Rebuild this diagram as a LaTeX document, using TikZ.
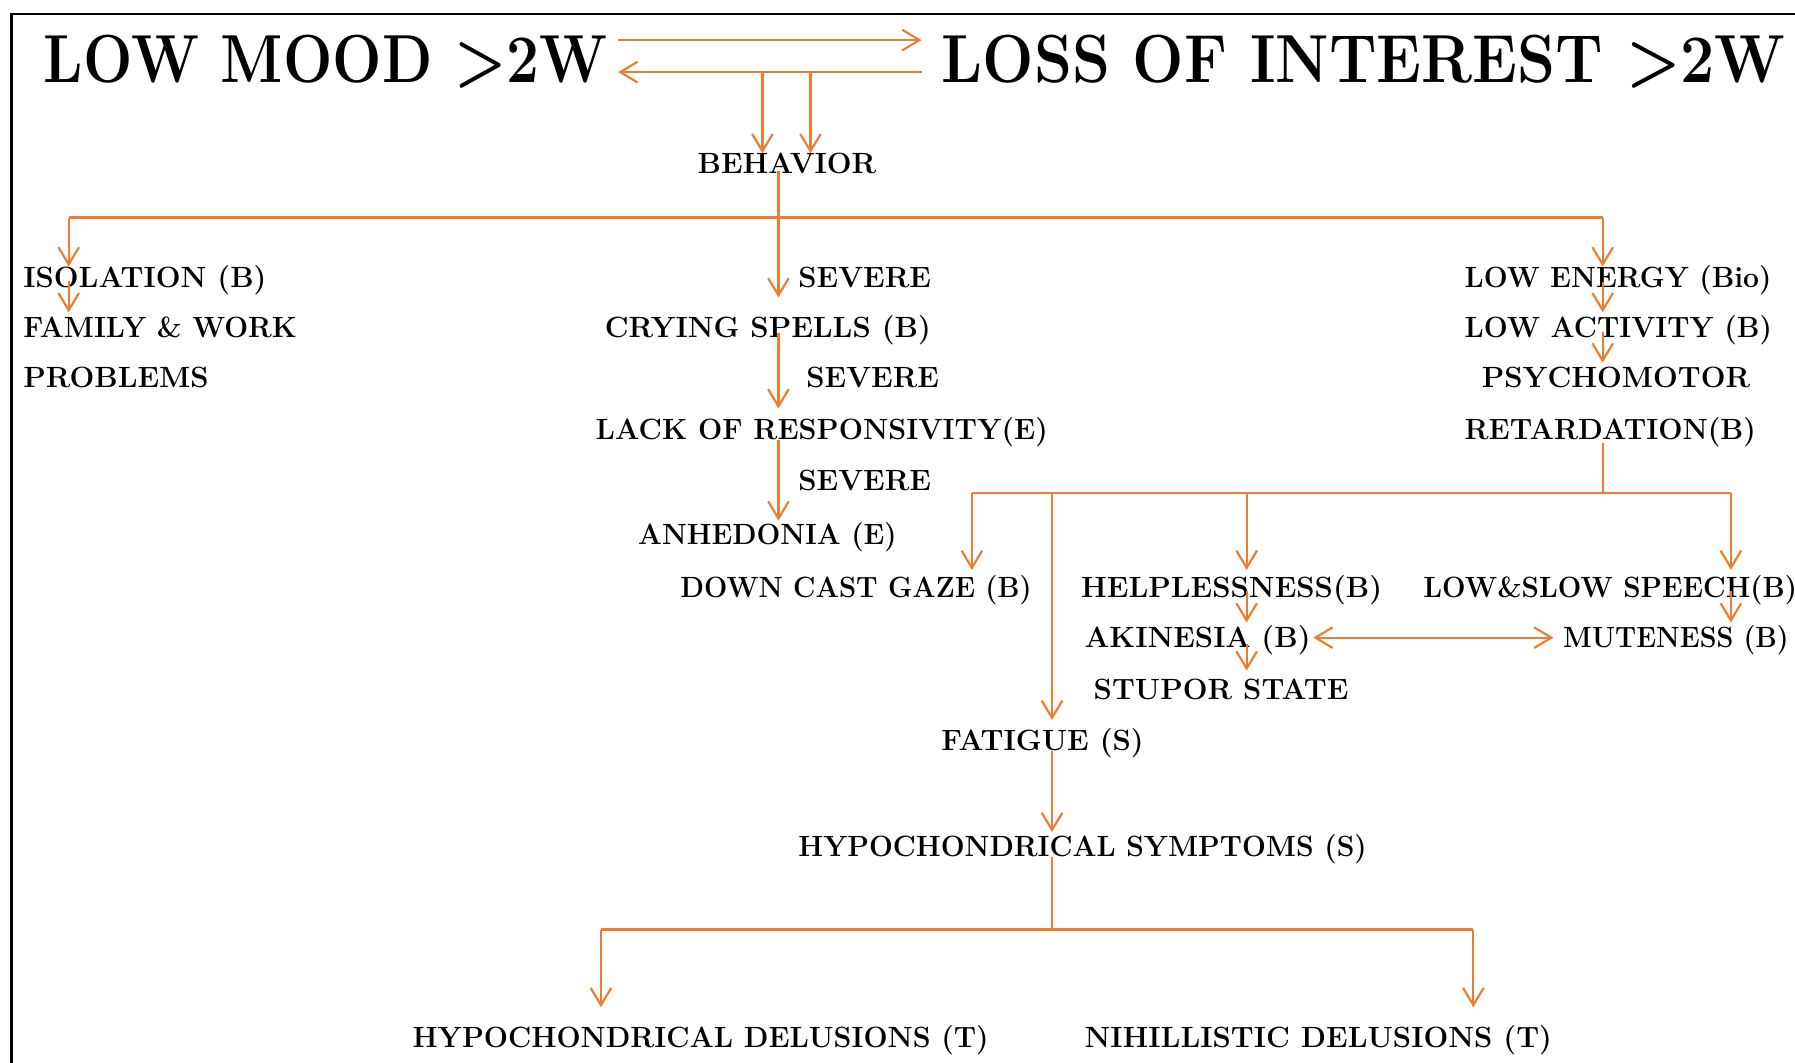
\documentclass[tikz,border=0pt]{standalone}
\usetikzlibrary{arrows.meta,calc}
\definecolor{acc}{RGB}{237,125,49}
\newcommand{\squeeze}[2]{\scalebox{#1}[1]{#2}}
\begin{document}
\begin{tikzpicture}[x=0.5pt,y=-0.5pt,
  lbl/.style={inner sep=0pt,anchor=west,font=\fontsize{12.8}{15}\selectfont\bfseries,text height=8.8pt,text depth=0pt},
  ttl/.style={inner sep=0pt,anchor=west,font=\fontsize{29.7}{34}\selectfont\bfseries,text height=20.4pt,text depth=0pt},
  wire/.style={draw=acc,line width=0.95pt},
  conn/.style={wire,-{Straight Barb[length=7.5pt,width=9pt]}},
  conn2/.style={wire,{Straight Barb[length=7.5pt,width=9pt]}-{Straight Barb[length=7.5pt,width=9pt]}}]
\useasboundingbox (0,0) rectangle (1568,928);
% frame
\draw[line width=1pt] (10,12) rectangle (1620,960);

% headings
\node[ttl] (mood) at (38,51.5) {\squeeze{0.86}{LOW MOOD >2W}};
\node[ttl] (loss) at (822,51.5) {\squeeze{0.895}{LOSS OF INTEREST >2W}};

% labels
\node[lbl] (beh) at (609,143) {BEHAVIOR};
\node[lbl] (iso) at (20,242) {ISOLATION (B)};
\node[lbl] (fam) at (20,286) {\squeeze{0.965}{FAMILY \& WORK}};
\node[lbl] (prob) at (20,330) {PROBLEMS};
\node[lbl] (sev1) at (697,242) {SEVERE};
\node[lbl] (cry) at (528,286) {CRYING SPELLS (B)};
\node[lbl] (sev2) at (704,330) {SEVERE};
\node[lbl] (lack) at (520,375) {\squeeze{0.98}{LACK OF RESPONSIVITY(E)}};
\node[lbl] (sev3) at (697,420) {SEVERE};
\node[lbl] (anh) at (557,467) {\squeeze{0.96}{ANHEDONIA (E)}};
\node[lbl] (gaze) at (594,513) {\squeeze{0.94}{DOWN CAST GAZE (B)}};
\node[lbl] (energy) at (1279,242) {\squeeze{0.965}{LOW ENERGY (Bio)}};
\node[lbl] (activity) at (1279,286) {\squeeze{0.97}{LOW ACTIVITY (B)}};
\node[lbl] (psycho) at (1294,330) {PSYCHOMOTOR};
\node[lbl] (retard) at (1279,375) {\squeeze{0.98}{RETARDATION(B)}};
\node[lbl] (help) at (944,513) {HELPLESSNESS(B)};
\node[lbl] (speech) at (1243,513) {\squeeze{0.95}{LOW\&SLOW SPEECH(B)}};
\node[lbl] (akin) at (947,557) {AKINESIA (B)};
\node[lbl] (mute) at (1365,557) {\squeeze{0.92}{MUTENESS (B)}};
\node[lbl] (stupor) at (955,602) {STUPOR STATE};
\node[lbl] (fatigue) at (822,647) {FATIGUE (S)};
\node[lbl] (hsym) at (697,739) {\squeeze{0.965}{HYPOCHONDRICAL SYMPTOMS (S)}};
\node[lbl] (hdel) at (360,906) {\squeeze{0.975}{HYPOCHONDRICAL DELUSIONS (T)}};
\node[lbl] (ndel) at (947,906) {NIHILLISTIC DELUSIONS (T)};

% columns and buses
\coordinate (cA) at (666,0);
\coordinate (cB) at (708,0);
\coordinate (cS) at (680,0);
\coordinate (cL) at (60,0);
\coordinate (cR) at (1400,0);
\coordinate (cG) at (849,0);
\coordinate (cF) at (919,0);
\coordinate (cH) at (1089,0);
\coordinate (cP) at (1512,0);
\coordinate (cD1) at (525,0);
\coordinate (cD2) at (1287,0);
\coordinate (bus1) at (0,190);
\coordinate (bus2) at (0,431);
\coordinate (bus3) at (0,812);
\coordinate (topL1) at (540,35);
\coordinate (topR1) at (805,35);
\coordinate (topL2) at (540,63);
\coordinate (topR2) at (805,63);

% two-way link between the headings
\draw[conn] (topL1) -- (topR1);
\draw[conn] (topR2) -- (topL2);
\draw[conn] (cA |- topL2) -- (beh.north -| cA);
\draw[conn] (cB |- topL2) -- (beh.north -| cB);

% behaviour branch
\draw[wire] (cL |- bus1) -- (cR |- bus1);
\draw[conn] ($(beh.south -| cS)+(0,-3)$) -- ($(cry.north -| cS)+(0,-17)$);
\draw[conn] (cL |- bus1) -- (iso.north -| cL);
\draw[conn] (cR |- bus1) -- (energy.north -| cR);
\draw[conn] ($(iso.south -| cL)+(0,-6)$) -- ($(fam.north -| cL)+(0,-4)$);
\draw[conn] ($(energy.south -| cR)+(0,-5)$) -- ($(activity.north -| cR)+(0,-4)$);
\draw[conn] ($(activity.south -| cR)+(0,-5)$) -- ($(psycho.north -| cR)+(0,-4)$);
\draw[conn] ($(cry.south -| cS)+(0,-4)$) -- ($(lack.north -| cS)+(0,-9)$);
\draw[conn] (lack.south -| cS) -- ($(anh.north -| cS)+(0,-3)$);

% retardation branch
\draw[wire] ($(retard.south -| cR)+(0,3)$) -- (cR |- bus2);
\draw[wire] (cG |- bus2) -- (cP |- bus2);
\draw[conn] (cG |- bus2) -- ($(gaze.north -| cG)+(0,-6)$);
\draw[conn] (cF |- bus2) -- ($(fatigue.north -| cF)+(0,-9)$);
\draw[conn] (cH |- bus2) -- ($(help.north -| cH)+(0,-6)$);
\draw[conn] (cP |- bus2) -- ($(speech.north -| cP)+(0,-6)$);
\draw[conn] ($(help.south -| cH)+(0,-6)$) -- ($(akin.north -| cH)+(0,-4)$);
\draw[conn] ($(akin.south -| cH)+(0,-4)$) -- ($(stupor.north -| cH)+(0,-7)$);
\draw[conn] ($(speech.south -| cP)+(0,-6)$) -- ($(mute.north -| cP)+(0,-4)$);
\draw[conn2] ($(akin.east)+(2,0)$) -- ($(mute.west)+(-8,0)$);

% somatic branch
\draw[conn] (fatigue.south -| cF) -- ($(hsym.north -| cF)+(0,-3)$);
\draw[wire] (hsym.south -| cF) -- (cF |- bus3);
\draw[wire] (cD1 |- bus3) -- (cD2 |- bus3);
\draw[conn] (cD1 |- bus3) -- ($(hdel.north -| cD1)+(0,-17)$);
\draw[conn] (cD2 |- bus3) -- ($(ndel.north -| cD2)+(0,-17)$);
\end{tikzpicture}
\end{document}
